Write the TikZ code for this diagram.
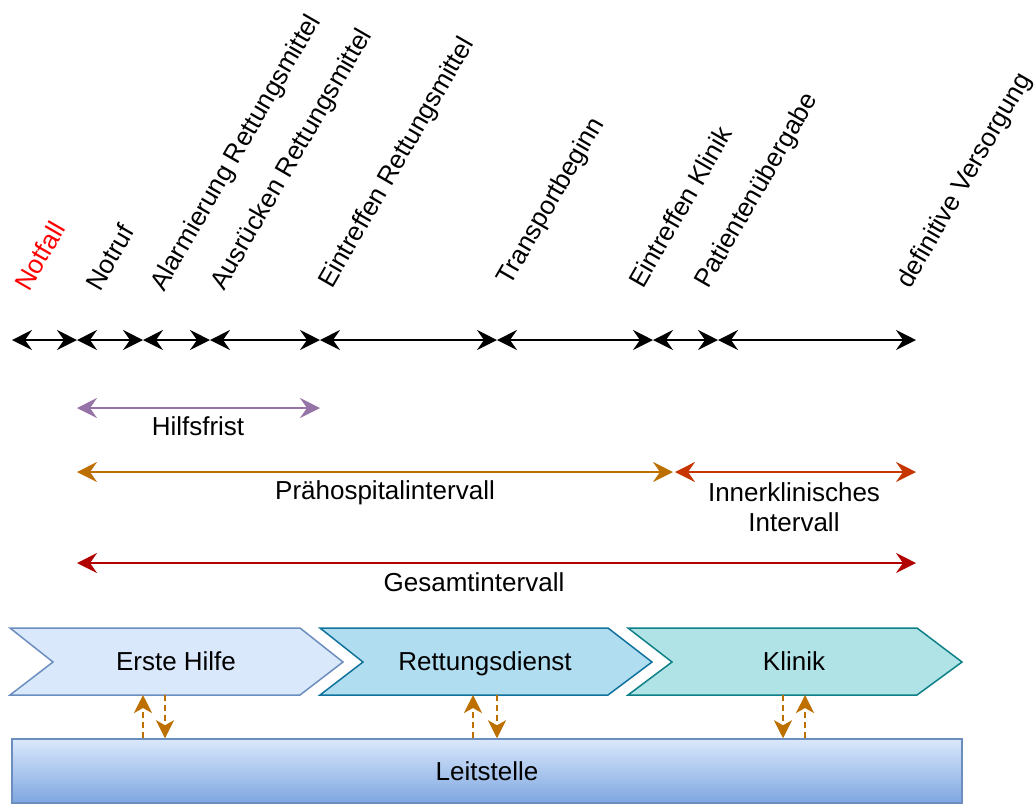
\documentclass[tikz,border=0pt]{standalone}
\usepackage{fontspec}
\setmainfont{Liberation Sans}
\usetikzlibrary{arrows.meta}
\definecolor{notfallred}{HTML}{FF0000}
\definecolor{hfpurple}{HTML}{9673A6}
\definecolor{prehosp}{HTML}{BD7000}
\definecolor{innerkl}{HTML}{C73500}
\definecolor{gesamt}{HTML}{B20000}
\definecolor{linkcol}{HTML}{BD7000}
\definecolor{ehfill}{HTML}{DAE8FC}
\definecolor{ehline}{HTML}{6C8EBF}
\definecolor{rdfill}{HTML}{B1DDF0}
\definecolor{rdline}{HTML}{10739E}
\definecolor{klfill}{HTML}{B0E3E6}
\definecolor{klline}{HTML}{0E8088}
\definecolor{lstop}{HTML}{DAE8FC}
\definecolor{lsbottom}{HTML}{7EA6E0}
\begin{document}
\begin{tikzpicture}[x=0.5pt,y=-0.5pt,
  font=\fontsize{13}{15}\selectfont,
  >={Stealth[length=10pt,width=10pt,inset=3.5pt]},
  span/.style={<->, line width=1pt},
  event/.style={rotate=60, anchor=base west, inner sep=0pt},
  phase/.style={line width=0.75pt, line join=miter},
  link/.style={-{Stealth[length=9pt,width=9pt,inset=2.5pt]}, draw=linkcol,
    line width=1pt, dash pattern=on 3pt off 2pt},
  lbl/.style={inner sep=0pt, align=center},
  phlbl/.style={inner sep=0pt, anchor=base}]
\useasboundingbox (0,0) rectangle (1036,805);

% time line with its events
\foreach \n/\x in {0/12,1/77,2/143,3/210,4/320,5/497,6/653,7/718,8/916}
  \coordinate (t\n) at (\x,340);
\foreach \a/\b in {t0/t1,t1/t2,t2/t3,t3/t4,t4/t5,t5/t6,t6/t7,t7/t8}
  \draw[span] (\a) -- (\b);

\node[event, text=notfallred] (e0) at (29,293) {Notfall};
\node[event] (e1) at (100,293) {Notruf};
\node[event] (e2) at (164,293) {Alarmierung Rettungsmittel};
\node[event] (e3) at (224,292) {Ausrücken Rettungsmittel};
\node[event] (e4) at (332,290) {Eintreffen Rettungsmittel};
\node[event] (e5) at (510,287) {Transportbeginn};
\node[event] (e6) at (643,290) {Eintreffen Klinik};
\node[event] (e7) at (708,290) {Patientenübergabe};
\node[event] (e8) at (910,290) {definitive Versorgung};

% intervals
\coordinate (hf0) at (77,408);  \coordinate (hf1) at (320,408);
\coordinate (ph0) at (77,472);  \coordinate (ph1) at (673,472);
\coordinate (ik0) at (675,472); \coordinate (ik1) at (916,472);
\coordinate (gs0) at (77,563);  \coordinate (gs1) at (916,563);
\draw[span, hfpurple] (hf0) -- (hf1);
\draw[span, prehosp] (ph0) -- (ph1);
\draw[span, innerkl] (ik0) -- (ik1);
\draw[span, gesamt] (gs0) -- (gs1);
\node[lbl] (hfl) at (198,426) {Hilfsfrist};
\node[phlbl] (phl) at (385,499) {Prähospitalintervall};
\node[lbl] (ikl) at (794,507) {Innerklinisches\\Intervall};
\node[lbl] (gsl) at (474,582) {Gesamtintervall};

% phases
\draw[phase, fill=ehfill, draw=ehline]
  (10,628) -- (300,628) -- (343,662) -- (300,695) -- (10,695) -- (53,662) -- cycle;
\draw[phase, fill=rdfill, draw=rdline]
  (320,628) -- (608,628) -- (652,662) -- (608,695) -- (320,695) -- (363,662) -- cycle;
\draw[phase, fill=klfill, draw=klline]
  (628,628) -- (917,628) -- (962,662) -- (917,695) -- (628,695) -- (672,662) -- cycle;
\node[phlbl] (eh) at (176,670) {Erste Hilfe};
\node[phlbl] (rd) at (485,670) {Rettungsdienst};
\node[phlbl] (kl) at (794,670) {Klinik};

% dispatch centre
\node[draw=ehline, line width=0.75pt, top color=lstop, bottom color=lsbottom,
  minimum width=475pt, minimum height=32pt, inner sep=0pt] (ls) at (487,771) {Leitstelle};

% communication with the dispatch centre
\coordinate (ehA) at (143,695); \coordinate (ehB) at (165,695);
\coordinate (rdA) at (473,695); \coordinate (rdB) at (497,695);
\coordinate (klA) at (783,695); \coordinate (klB) at (805,695);
\draw[link] (ls.north -| ehA) -- (ehA);
\draw[link] (ehB) -- (ls.north -| ehB);
\draw[link] (ls.north -| rdA) -- (rdA);
\draw[link] (rdB) -- (ls.north -| rdB);
\draw[link] (klA) -- (ls.north -| klA);
\draw[link] (ls.north -| klB) -- (klB);
\end{tikzpicture}
\end{document}
